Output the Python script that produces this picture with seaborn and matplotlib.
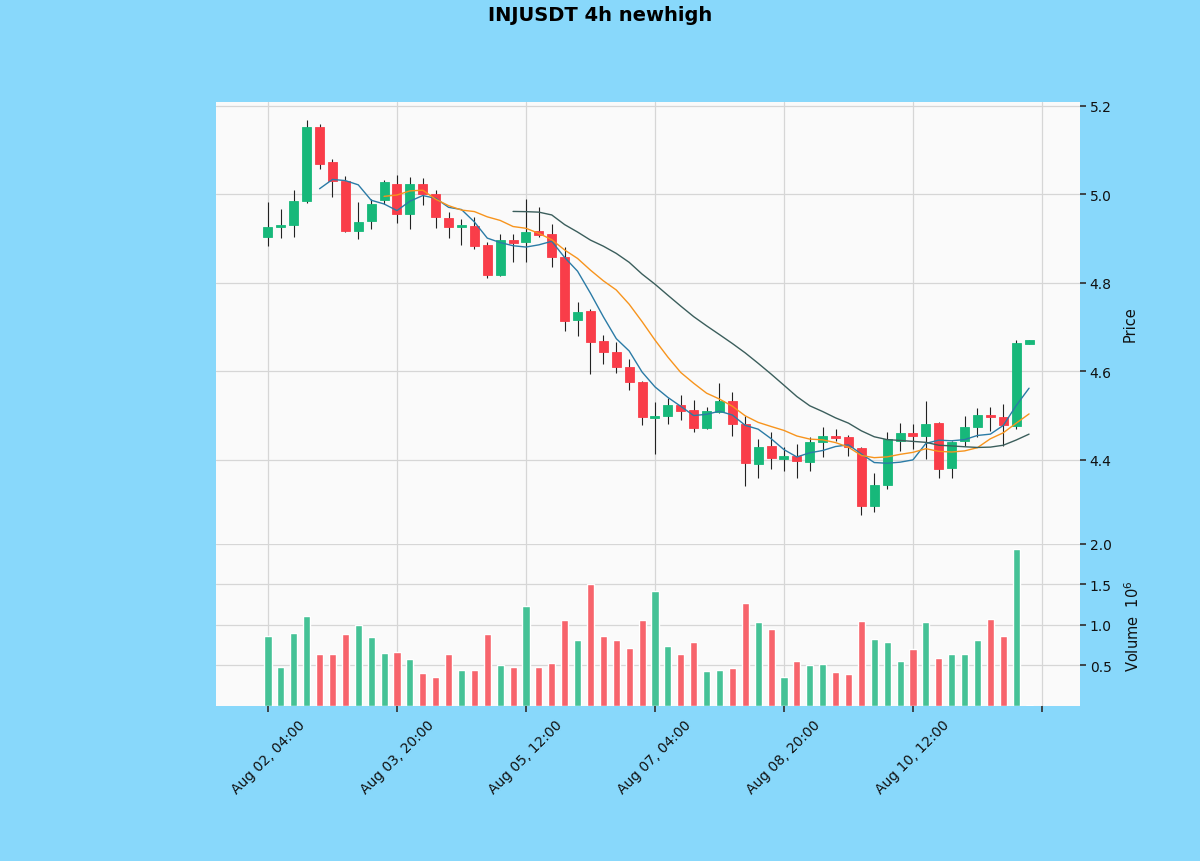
import matplotlib
matplotlib.use("Agg")
import matplotlib.pyplot as plt
import seaborn as sns
import pandas as pd
import numpy as np

# INJUSDT 4h candles, Aug 02 04:00 -> Aug 12 00:00
opens = [4.905, 4.926, 4.931, 4.985, 5.153, 5.073, 5.031, 4.918, 4.939, 4.988,
         5.024, 4.956, 5.024, 5.001, 4.946, 4.926, 4.928, 4.886, 4.818, 4.898,
         4.892, 4.917, 4.911, 4.858, 4.717, 4.737, 4.670, 4.645, 4.611, 4.576,
         4.495, 4.499, 4.524, 4.513, 4.472, 4.509, 4.534, 4.481, 4.391, 4.431,
         4.402, 4.410, 4.396, 4.441, 4.455, 4.451, 4.426, 4.295, 4.343, 4.444,
         4.462, 4.454, 4.484, 4.381, 4.444, 4.474, 4.502, 4.496, 4.476, 4.662]
highs = [4.982, 4.967, 5.010, 5.168, 5.160, 5.080, 5.042, 4.982, 4.990, 5.032,
         5.044, 5.040, 5.038, 5.010, 4.960, 4.945, 4.950, 4.892, 4.911, 4.911,
         4.990, 4.971, 4.933, 4.881, 4.756, 4.742, 4.682, 4.666, 4.628, 4.578,
         4.530, 4.540, 4.547, 4.536, 4.519, 4.573, 4.554, 4.500, 4.447, 4.463,
         4.430, 4.436, 4.451, 4.474, 4.470, 4.456, 4.429, 4.371, 4.463, 4.484,
         4.481, 4.534, 4.486, 4.444, 4.500, 4.517, 4.519, 4.527, 4.672, 4.672]
lows = [4.884, 4.902, 4.904, 4.980, 5.058, 4.994, 4.915, 4.899, 4.922, 4.979,
        4.935, 4.922, 4.977, 4.925, 4.901, 4.886, 4.877, 4.811, 4.815, 4.848,
        4.847, 4.903, 4.835, 4.692, 4.681, 4.594, 4.617, 4.597, 4.559, 4.479,
        4.414, 4.481, 4.491, 4.464, 4.470, 4.507, 4.455, 4.342, 4.359, 4.380,
        4.376, 4.359, 4.374, 4.406, 4.444, 4.408, 4.276, 4.282, 4.334, 4.421,
        4.425, 4.402, 4.359, 4.359, 4.432, 4.451, 4.466, 4.432, 4.470, 4.662]
closes = [4.926, 4.931, 4.985, 5.153, 5.070, 5.031, 4.918, 4.937, 4.979, 5.028,
          4.956, 5.024, 5.001, 4.948, 4.926, 4.931, 4.884, 4.818, 4.898, 4.890,
          4.916, 4.909, 4.858, 4.715, 4.735, 4.667, 4.643, 4.611, 4.576, 4.497,
          4.499, 4.524, 4.510, 4.472, 4.511, 4.534, 4.481, 4.393, 4.429, 4.404,
          4.410, 4.398, 4.440, 4.455, 4.449, 4.429, 4.295, 4.343, 4.447, 4.461,
          4.455, 4.481, 4.380, 4.440, 4.474, 4.502, 4.496, 4.478, 4.664, 4.671]
# volume in millions
volumes = [0.87, 0.48, 0.90, 1.11, 0.64, 0.64, 0.89, 1.00, 0.85, 0.66,
           0.665, 0.58, 0.41, 0.36, 0.64, 0.45, 0.45, 0.89, 0.51, 0.48,
           1.24, 0.48, 0.53, 1.06, 0.82, 1.50, 0.86, 0.82, 0.72, 1.06,
           1.42, 0.74, 0.64, 0.79, 0.43, 0.45, 0.47, 1.27, 1.04, 0.95,
           0.36, 0.55, 0.50, 0.52, 0.42, 0.40, 1.05, 0.83, 0.79, 0.55,
           0.70, 1.04, 0.59, 0.64, 0.64, 0.82, 1.08, 0.86, 1.94, 0.01]
mav_windows = [5, 10, 20]

times = pd.date_range("2023-08-02 04:00", periods=len(closes), freq="4h")
df = pd.DataFrame({"open": opens, "high": highs, "low": lows,
                   "close": closes, "volume": volumes})
df["idx"] = np.arange(len(df))
df["dir"] = np.where(df["close"] >= df["open"], "up", "down")

up_c, down_c = "#17b87a", "#f93d49"
vol_up, vol_down = "#45c296", "#f7646c"
mav_colors = ["#2b7ba6", "#f7941d", "#3b5e5c"]
bg = "#88d8fb"

sns.set_theme(style="whitegrid")
fig = plt.figure(figsize=(12, 8.62), dpi=100, facecolor=bg)
ax = fig.add_axes([0.18, 0.3677, 0.72, 0.5128])
axv = fig.add_axes([0.18, 0.1798, 0.72, 0.188], sharex=ax)

for a in (ax, axv):
    a.set_facecolor("#fafafa")
    a.grid(True, color="#d6d6d6", linewidth=0.9)
    for s in a.spines.values():
        s.set_visible(False)
    a.yaxis.tick_right()
    a.yaxis.set_label_position("right")
    a.tick_params(axis="y", which="both", right=True, length=4, color="#333333",
                  labelsize=10, labelcolor="#111111", pad=3)

# candles
colors = np.where(df["dir"] == "up", up_c, down_c)
ax.vlines(df["idx"], df["low"], df["high"], color="#222222", linewidth=0.8, zorder=2)
body_lo = np.minimum(df["open"], df["close"])
body_h = np.maximum(np.abs(df["close"] - df["open"]), 0.003)
ax.bar(df["idx"], body_h, bottom=body_lo, width=0.7, color=colors,
       edgecolor=colors, linewidth=0.6, zorder=3)

# moving averages
for w, c in zip(mav_windows, mav_colors):
    ma = df[["idx"]].assign(ma=df["close"].rolling(w).mean()).dropna()
    sns.lineplot(data=ma, x="idx", y="ma", ax=ax, color=c, linewidth=1.0, zorder=4)

ax.set_ylim(4.21, 5.209)
ax.set_yticks([4.4, 4.6, 4.8, 5.0, 5.2])
ax.set_ylabel("Price", fontsize=10.5, color="#111111", labelpad=8)
ax.set_xlabel("")
ax.tick_params(axis="x", bottom=False, labelbottom=False)

# volume
sns.barplot(data=df, x="idx", y="volume", hue="dir", palette={"up": vol_up, "down": vol_down},
            native_scale=True, dodge=False, width=0.55, errorbar=None, legend=False,
            ax=axv, saturation=1)
axv.set_ylim(0, 2.0)
axv.set_yticks([0.5, 1.0, 1.5, 2.0])
axv.set_ylabel("Volume  $10^6$", fontsize=10.5, color="#111111", labelpad=8)
axv.set_xlabel("")

tick_pos = list(range(0, 61, 10))
tick_lab = [times[i].strftime("%b %d, %H:%M") if i < len(times) else "" for i in tick_pos]
axv.set_xticks(tick_pos)
axv.set_xticklabels(tick_lab, rotation=45, ha="center", fontsize=10, color="#111111")
axv.tick_params(axis="x", bottom=True, length=4, color="#333333", pad=4)
ax.set_xlim(-4.03, 62.95)

fig.suptitle("INJUSDT 4h newhigh", fontsize=14, fontweight="bold", color="black", y=0.993)
fig.savefig("out.png", dpi=100, facecolor=bg)
